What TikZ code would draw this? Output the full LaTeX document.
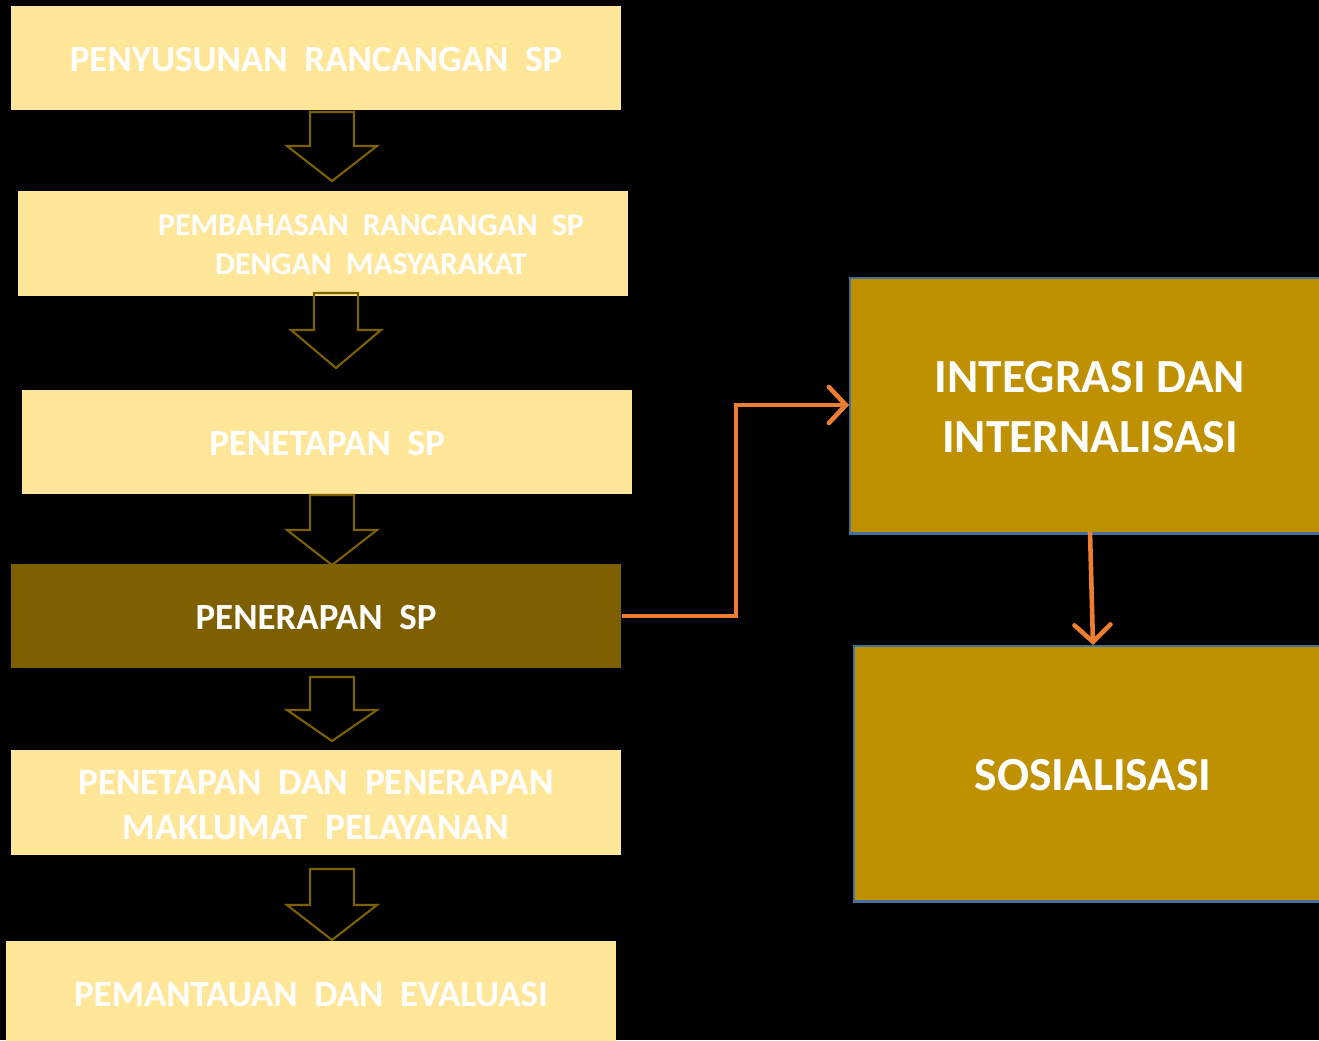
\documentclass[tikz,border=0pt]{standalone}
\usepackage{fontspec}
\setmainfont{Carlito}
\usetikzlibrary{arrows.meta}

\definecolor{lightgold}{HTML}{FFE699}
\definecolor{darkgold}{HTML}{7F6000}
\definecolor{gold}{HTML}{BF9000}
\definecolor{lineorange}{HTML}{ED7D31}
\definecolor{edgeblue}{HTML}{41719C}

\tikzset{
  stepbox/.style={fill=lightgold, minimum width=6.1cm, minimum height=1.04cm,
    inner sep=0pt, text=white, font=\bfseries\fontsize{10.5}{12}\selectfont, align=center},
  sidebox/.style={fill=gold, draw=edgeblue, line width=0.7pt, minimum width=4.9cm,
    minimum height=2.55cm, inner sep=0pt, text=white,
    font=\bfseries\fontsize{13.5}{17}\selectfont, align=center},
  blockarrow/.style={draw=darkgold, line width=0.6pt, line join=miter},
  flowline/.style={draw=lineorange, line width=1.3pt,
    -{Straight Barb[length=1.7mm,width=3.6mm,line width=1.3pt,line cap=round]}}
}

\begin{document}
\begin{tikzpicture}[x=0.01cm,y=-0.01cm]
\fill[black] (0,0) rectangle (1319,1040);
\useasboundingbox (0,0) rectangle (1319,1040);

% left column
\node[stepbox] (susun) at (316,58) {};
\node[text=white, font=\bfseries\fontsize{10.5}{12}\selectfont] (susuntext) at (316,60) {PENYUSUNAN~~RANCANGAN~~SP};
\node[stepbox] (bahas) at (323,243.5) {};
\node[text=white, font=\bfseries\fontsize{9}{11.2}\selectfont, align=center] (bahastext) at (371,245) {PEMBAHASAN~~RANCANGAN~~SP\\DENGAN~~MASYARAKAT};
\node[stepbox] (tetap) at (327,442) {};
\node[text=white, font=\bfseries\fontsize{10.5}{12}\selectfont] (tetaptext) at (327,444) {PENETAPAN~~SP};
\node[stepbox, fill=darkgold] (terap) at (316,616) {};
\node[text=white, font=\bfseries\fontsize{10.5}{12}\selectfont] (teraptext) at (316,618) {PENERAPAN~~SP};
\node[stepbox] (maklumat) at (316,802.5) {};
\node[text=white, font=\bfseries\fontsize{10.6}{12.8}\selectfont, align=center] (maklumattext) at (316,805) {PENETAPAN~~DAN~~PENERAPAN\\MAKLUMAT~~PELAYANAN};
\node[stepbox, minimum height=1.1cm] (pantau) at (311,996) {};
\node[text=white, font=\bfseries\fontsize{10.5}{12}\selectfont] (pantautext) at (311,995) {PEMANTAUAN~~DAN~~EVALUASI};

% block arrows
\draw[blockarrow] (310,112) -- (354,112) -- (354,146) -- (377,146) -- (332,181) -- (287,146) -- (310,146) -- cycle;
\draw[blockarrow] (314,293) -- (358,293) -- (358,330) -- (381,330) -- (336,368) -- (291,330) -- (314,330) -- cycle;
\draw[blockarrow] (310,495) -- (354,495) -- (354,530) -- (377,530) -- (332,565) -- (287,530) -- (310,530) -- cycle;
\draw[blockarrow] (310,677) -- (354,677) -- (354,710) -- (377,710) -- (332,741) -- (287,710) -- (310,710) -- cycle;
\draw[blockarrow] (310,869) -- (354,869) -- (354,905) -- (377,905) -- (332,940) -- (287,905) -- (310,905) -- cycle;

% right column
\node[sidebox, anchor=north west] (integrasi) at (849,277) {};
\node[text=white, font=\bfseries\fontsize{13.5}{17}\selectfont, align=center] (integrasitext) at (1090,407) {INTEGRASI DAN\\INTERNALISASI};
\node[sidebox, anchor=north west] (sosial) at (853,645) {};
\node[text=white, font=\bfseries\fontsize{13.5}{17}\selectfont] (sosialtext) at (1093,775) {SOSIALISASI};

% connectors
\draw[flowline] (terap.east) -- (736,616) -- (736,405) -- (integrasi.west |- 0,405);
\draw[flowline] (1090,532) -- (sosial.north -| 1093,0);
\end{tikzpicture}
\end{document}
